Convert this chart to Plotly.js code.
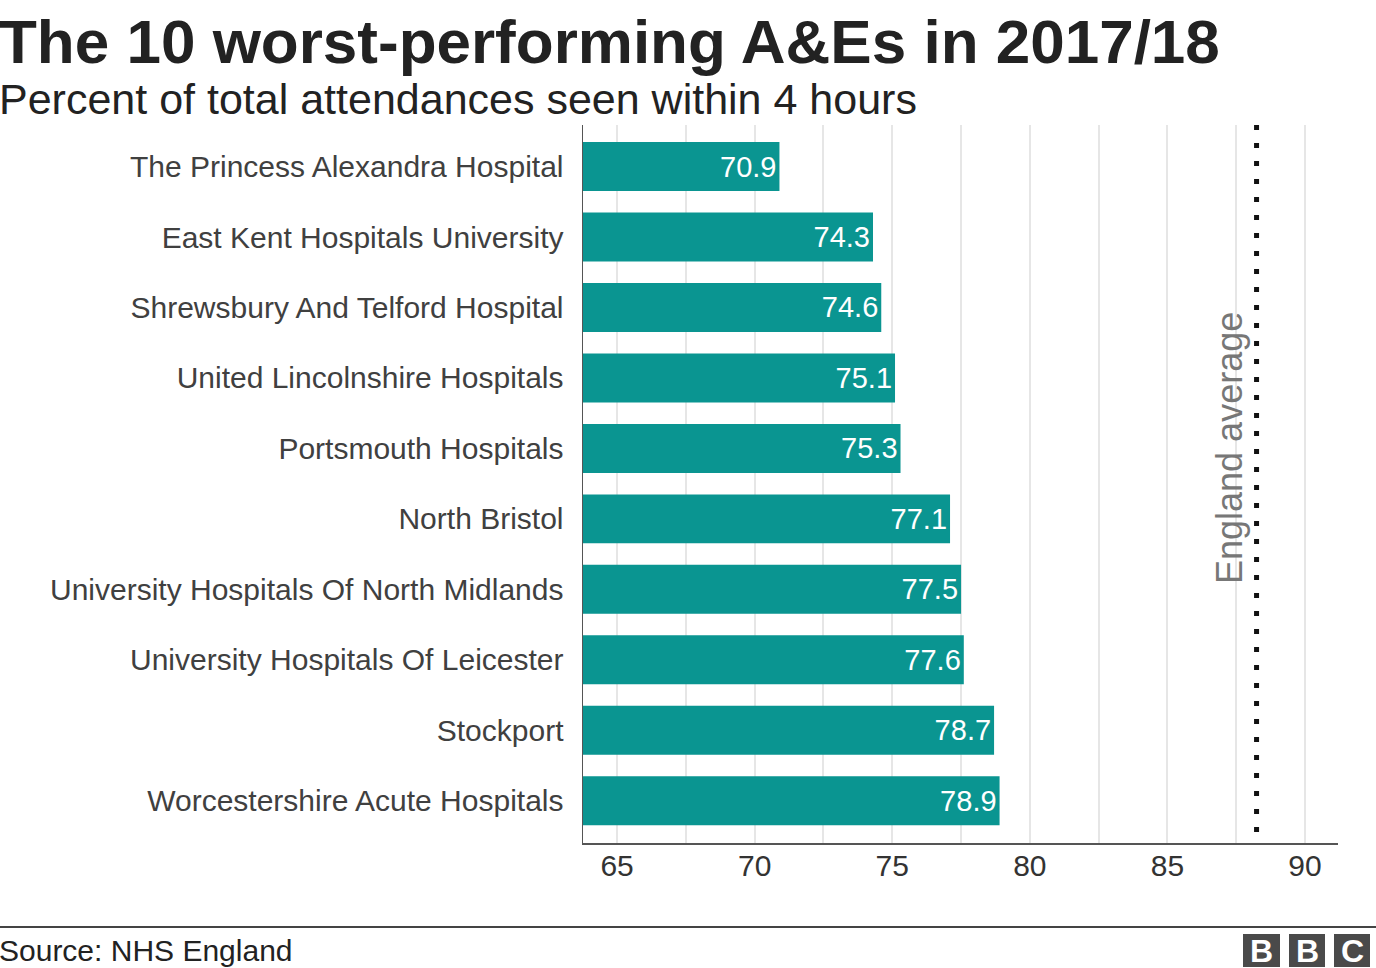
<!DOCTYPE html>
<html>
<head>
<meta charset="utf-8">
<script src="https://cdn.plot.ly/plotly-3.0.1.min.js"></script>
<style>
html,body{margin:0;padding:0;background:#fff;}
#chart{width:1376px;height:968px;}
</style>
</head>
<body>
<div id="chart"></div>
<script>
const hospitals = [
  "The Princess Alexandra Hospital",
  "East Kent Hospitals University",
  "Shrewsbury And Telford Hospital",
  "United Lincolnshire Hospitals",
  "Portsmouth Hospitals",
  "North Bristol",
  "University Hospitals Of North Midlands",
  "University Hospitals Of Leicester",
  "Stockport",
  "Worcestershire Acute Hospitals"
];
const percentSeen = [70.9, 74.3, 74.6, 75.1, 75.3, 77.1, 77.5, 77.6, 78.7, 78.9];
const englandAverage = 88.24;
const xTickValues = [65, 70, 75, 80, 85, 90];

const W = 1376, H = 968;
const L = 583, R = 1338, T = 125, B = 843;
const px = x => (x - L) / (R - L);
const py = y => (B - y) / (B - T);
const FONT = "Liberation Sans, Arial, Helvetica, sans-serif";

const trace = {
  type: "bar",
  orientation: "h",
  y: hospitals,
  x: percentSeen,
  marker: {color: "#0a9591"},
  text: percentSeen.map(v => v.toFixed(1)),
  textposition: "inside",
  insidetextanchor: "end",
  textfont: {color: "#ffffff", size: 29, family: FONT},
  constraintext: "none",
  hoverinfo: "x+y"
};

const bbc = ["B", "B", "C"];
const boxX = [[1243, 1280], [1289, 1325], [1334, 1370]];
const shapes = [
  {type: "line", xref: "x", yref: "paper", x0: englandAverage, x1: englandAverage, y0: 1, y1: 0,
   line: {color: "#111", width: 5, dash: "5px,13px"}},
  {type: "line", xref: "paper", yref: "paper", x0: px(0), x1: px(W), y0: py(927), y1: py(927),
   line: {color: "#444", width: 2}}
];
const annotations = [
  {xref: "paper", yref: "paper", x: px(-3), y: py(42), xanchor: "left", yanchor: "middle",
   text: "<b>The 10 worst-performing A&Es in 2017/18</b>", showarrow: false,
   font: {family: FONT, size: 62, color: "#222"}},
  {xref: "paper", yref: "paper", x: px(-3), y: py(99), xanchor: "left", yanchor: "middle",
   text: "Percent of total attendances seen within 4 hours", showarrow: false,
   font: {family: FONT, size: 43, color: "#222"}},
  {xref: "paper", yref: "paper", x: px(-3), y: py(950), xanchor: "left", yanchor: "middle",
   text: "Source: NHS England", showarrow: false,
   font: {family: FONT, size: 30, color: "#222"}},
  {xref: "paper", yref: "paper", x: px(1229), y: py(448), xanchor: "center", yanchor: "middle",
   text: "England average", textangle: -90, showarrow: false,
   font: {family: FONT, size: 36, color: "#777"}}
];
boxX.forEach((b, i) => {
  shapes.push({type: "rect", xref: "paper", yref: "paper", x0: px(b[0]), x1: px(b[1]),
    y0: py(967), y1: py(934), fillcolor: "#4a4a4a", line: {width: 0}});
  annotations.push({xref: "paper", yref: "paper", x: px((b[0] + b[1]) / 2), y: py(951),
    xanchor: "center", yanchor: "middle", text: "<b>" + bbc[i] + "</b>", showarrow: false,
    font: {family: FONT, size: 32, color: "#fff"}});
});

const layout = {
  width: W, height: H,
  margin: {l: L, r: W - R, t: T, b: H - B, pad: 0},
  paper_bgcolor: "#fff", plot_bgcolor: "#fff",
  showlegend: false,
  bargap: 0.305,
  xaxis: {
    range: [63.76, 91.2], tickvals: xTickValues, ticktext: xTickValues.map(String),
    showgrid: true, gridcolor: "#e6e6e6", gridwidth: 2,
    minor: {dtick: 2.5, tick0: 0, showgrid: true, gridcolor: "#e6e6e6", gridwidth: 2},
    zeroline: false, showline: true, linecolor: "#555", linewidth: 1.5,
    ticks: "", ticklabelstandoff: -5,
    tickfont: {family: FONT, size: 30, color: "#333"}, fixedrange: true
  },
  yaxis: {
    range: [9.6, -0.59], showgrid: false, zeroline: false,
    showline: true, linecolor: "#555", linewidth: 1.5,
    ticks: "outside", ticklen: 12, tickcolor: "rgba(0,0,0,0)",
    tickfont: {family: FONT, size: 30, color: "#404040"}, fixedrange: true
  },
  shapes: shapes,
  annotations: annotations,
  font: {family: FONT}
};

Plotly.newPlot("chart", [trace], layout, {displayModeBar: false, staticPlot: true});
</script>
</body>
</html>
